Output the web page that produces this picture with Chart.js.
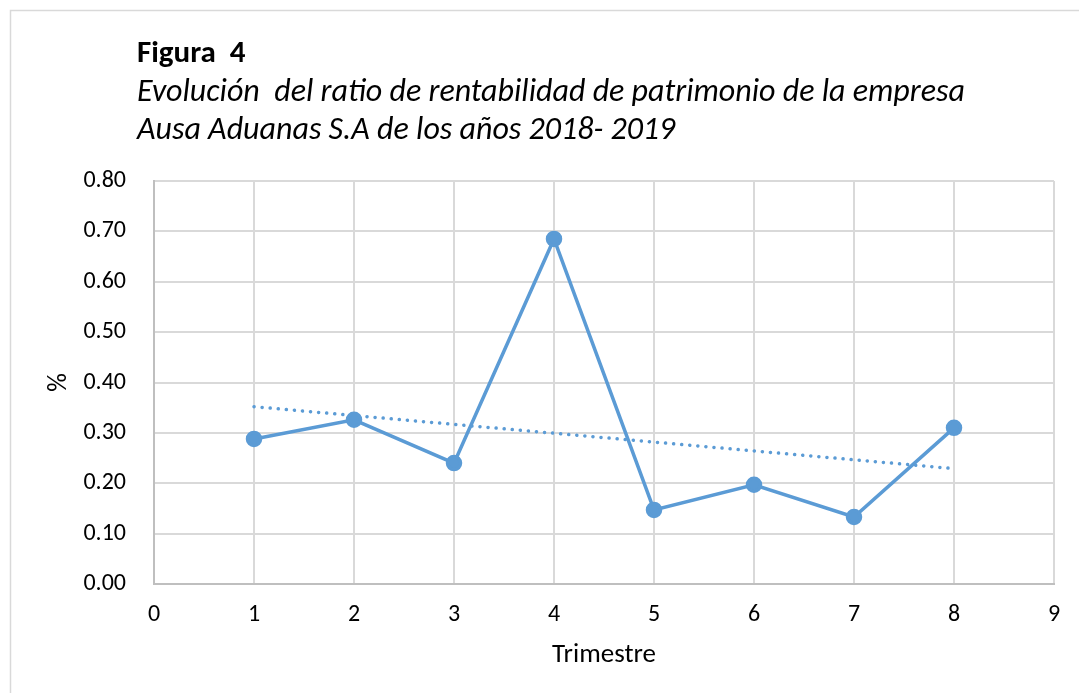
<!DOCTYPE html>
<html>
<head>
<meta charset="utf-8">
<script src="https://cdn.jsdelivr.net/npm/chart.js@4"></script>
<style>
  html, body { margin: 0; padding: 0; background: #fff; }
  canvas { display: block; }
</style>
</head>
<body>
<canvas id="myChart" width="1079" height="693"></canvas>
<script>
// values
const trimestres = [1, 2, 3, 4, 5, 6, 7, 8];
const ratio = [0.288, 0.326, 0.240, 0.685, 0.147, 0.197, 0.133, 0.310];
const trendX = [1, 8];
const trendY = [0.352, 0.229];
const xTicks = [0, 1, 2, 3, 4, 5, 6, 7, 8, 9];
const yTicks = ['0.00', '0.10', '0.20', '0.30', '0.40', '0.50', '0.60', '0.70', '0.80'];

const titleLine = 'Figura  4';
const subLines = [
    'Evolución  del ratio de rentabilidad de patrimonio de la empresa',
    'Ausa Aduanas S.A de los años 2018- 2019'
];

const fontFam = 'Carlito, Lato, "Open Sans", sans-serif';
const blue = '#5B9BD5';

// frame + heading drawn on the canvas
const heading = {
    id: 'heading',
    beforeDraw(chart) {
        const c = chart.ctx;
        c.save();
        c.fillStyle = '#fff';
        c.fillRect(0, 0, chart.width, chart.height);
        c.strokeStyle = '#d9d9d9';
        c.lineWidth = 1.5;
        c.strokeRect(10.5, 10.5, chart.width + 20, chart.height + 20);
        c.fillStyle = '#000';
        c.textBaseline = 'alphabetic';
        c.font = 'bold 31px ' + fontFam;
        c.fillText(titleLine, 137, 62);
        c.font = 'italic 32px ' + fontFam;
        c.fillText(subLines[0], 137, 101);
        c.fillText(subLines[1], 137, 139);
        c.restore();
    }
};

const ctx = document.getElementById('myChart').getContext('2d');

new Chart(ctx, {
    type: 'scatter',
    data: {
        datasets: [
            {
                label: 'Ratio',
                data: trimestres.map((t, i) => ({ x: t, y: ratio[i] })),
                showLine: true,
                borderColor: blue,
                backgroundColor: blue,
                borderWidth: 3.5,
                pointRadius: 6.5,
                pointHoverRadius: 6.5,
                order: 1
            },
            {
                label: 'Tendencia',
                data: trendX.map((t, i) => ({ x: t, y: trendY[i] })),
                showLine: true,
                borderColor: blue,
                borderWidth: 3.5,
                borderDash: [0.1, 8],
                borderCapStyle: 'round',
                pointRadius: 0,
                order: 2
            }
        ]
    },
    options: {
        responsive: false,
        animation: false,
        layout: { padding: { left: 0, top: 181, right: 25, bottom: 0 } },
        plugins: {
            legend: { display: false },
            tooltip: { enabled: false }
        },
        scales: {
            x: {
                type: 'linear',
                min: 0,
                max: 9,
                afterBuildTicks: s => { s.ticks = xTicks.map(v => ({ value: v })); },
                afterFit: s => { s.height = 109; },
                grid: { color: '#d9d9d9', lineWidth: 2, drawTicks: false },
                border: { color: '#bfbfbf', width: 2 },
                ticks: {
                    color: '#000',
                    padding: 17,
                    font: { family: fontFam, size: 24 }
                },
                title: {
                    display: true,
                    text: 'Trimestre',
                    color: '#000',
                    font: { family: fontFam, size: 27 },
                    padding: { top: 0, bottom: 22 }
                }
            },
            y: {
                type: 'linear',
                min: 0,
                max: 0.8,
                afterBuildTicks: s => { s.ticks = yTicks.map(v => ({ value: parseFloat(v) })); },
                afterFit: s => { s.width = 154; },
                grid: { color: '#d9d9d9', lineWidth: 2, drawTicks: false },
                border: { color: '#bfbfbf', width: 2 },
                ticks: {
                    color: '#000',
                    padding: 28,
                    font: { family: fontFam, size: 24 },
                    callback: (v, i) => yTicks[i]
                },
                title: {
                    display: true,
                    text: '%',
                    color: '#000',
                    font: { family: fontFam, size: 26 },
                    padding: { top: 44, bottom: 0 }
                }
            }
        }
    },
    plugins: [heading]
});
</script>
</body>
</html>
